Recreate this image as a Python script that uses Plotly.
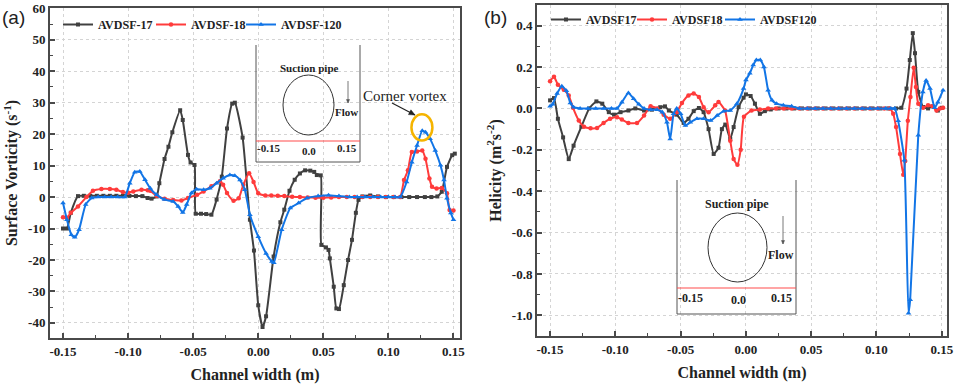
import plotly.graph_objects as go

# ---------------- Panel (a): Surface vorticity ----------------
xa_17 = [-0.150, -0.147, -0.144, -0.1385, -0.134, -0.129, -0.124, -0.119, -0.114, -0.109, -0.104, -0.099,
         -0.094, -0.089, -0.085, -0.082, -0.078, -0.076, -0.072, -0.069, -0.066, -0.060, -0.058, -0.054,
         -0.052, -0.049, -0.048, -0.044, -0.040, -0.036, -0.032, -0.028, -0.024, -0.020, -0.018, -0.012,
         -0.0064, -0.0033, 0.000, 0.0033, 0.006, 0.0118, 0.017, 0.020, 0.024, 0.028, 0.032, 0.036, 0.040,
         0.043, 0.045, 0.048, 0.0485, 0.052, 0.054, 0.055, 0.058, 0.060, 0.062, 0.0657, 0.069, 0.072,
         0.075, 0.077, 0.080, 0.086, 0.092, 0.098, 0.104, 0.110, 0.116, 0.122, 0.128, 0.133, 0.1376,
         0.141, 0.145, 0.149, 0.151]
ya_17 = [-10.0, -10.0, -5.0, 0.3, 0.4, 0.4, 0.4, 0.4, 0.4, 0.4, 0.4, 0.4,
         0.3, 0.3, -0.3, -0.5, 0.2, 4.4, 12.1, 16.0, 20.6, 27.6, 24.5, 13.4,
         11.0, 10.2, -5.3, -5.3, -5.4, -5.6, -0.8, 6.5, 21.8, 29.7, 30.0, 18.9,
         -7.2, -17.0, -34.4, -41.3, -37.9, -18.9, -8.0, -4.0, 2.0, 5.5, 7.5, 8.5, 8.4,
         8.0, 7.0, 6.9, -15.2, -16.0, -16.8, -19.5, -28.5, -35.4, -35.6, -28.0, -20.0, -13.6,
         -5.0, -0.9, 0.2, 0.5, 0.2, 0.0, 0.0, 0.0, 0.0, 0.0, 0.0, 0.0, 0.2,
         1.7, 9.6, 13.3, 13.8]

xa_18 = [-0.150, -0.147, -0.144, -0.1385, -0.132, -0.127, -0.1205, -0.114, -0.109, -0.104, -0.100,
         -0.096, -0.0897, -0.085, -0.083, -0.078, -0.072, -0.0654, -0.059, -0.054, -0.047, -0.042,
         -0.036, -0.0295, -0.027, -0.024, -0.019, -0.015, -0.0115, -0.007, -0.0036, 0.000, 0.0054,
         0.010, 0.015, 0.020, 0.026, 0.032, 0.038, 0.044, 0.050, 0.056, 0.062, 0.068, 0.074, 0.080,
         0.086, 0.092, 0.098, 0.104, 0.109, 0.112, 0.115, 0.118, 0.122, 0.126, 0.1285, 0.1315,
         0.1335, 0.137, 0.141, 0.145, 0.147, 0.150]
ya_18 = [-6.4, -6.6, -5.0, -3.0, 0.0, 2.0, 2.6, 2.6, 2.3, 1.6, 1.4,
         1.8, 2.3, 2.2, 2.0, 0.4, -0.5, -0.9, -1.1, -0.3, 0.7, 1.8,
         3.4, 5.0, 3.9, 1.3, -1.2, -0.4, 3.9, 7.6, 4.8, 1.2, 0.5,
         0.5, 0.4, 0.3, 0.1, 0.0, -0.1, -0.2, -0.2, -0.1, 0.0, 0.0, 0.0, 0.0,
         0.0, 0.0, 0.0, 0.0, 0.0, 5.4, 8.5, 14.3, 14.5, 14.8, 12.2, 5.9,
         3.3, 2.7, 2.9, 1.2, -4.1, -4.3]

xa_120 = [-0.150, -0.147, -0.1436, -0.141, -0.1377, -0.1326, -0.128, -0.123, -0.118, -0.113, -0.108,
          -0.1026, -0.0987, -0.0949, -0.091, -0.087, -0.083, -0.078, -0.072, -0.0654, -0.0615, -0.058,
          -0.055, -0.0513, -0.0474, -0.042, -0.0372, -0.032, -0.027, -0.0218, -0.018, -0.014, -0.0103,
          -0.0064, 0.000, 0.006, 0.0105, 0.012, 0.018, 0.0246, 0.031, 0.0375, 0.046, 0.054, 0.062,
          0.070, 0.076, 0.082, 0.088, 0.094, 0.100, 0.105, 0.109, 0.114, 0.118, 0.122, 0.126, 0.1285,
          0.132, 0.136, 0.140, 0.1427, 0.145, 0.148, 0.150]
ya_120 = [-1.9, -7.2, -12.0, -12.8, -10.4, -2.4, -0.3, 0.0, 0.0, 0.0, 0.0,
          0.0, 4.4, 7.9, 8.1, 5.5, 2.8, 0.7, -0.8, -1.4, -3.0, -4.9,
          -2.4, 1.3, 2.5, 2.3, 2.8, 4.4, 6.0, 7.0, 6.8, 5.4, 2.3,
          -5.6, -12.6, -17.9, -20.5, -20.9, -10.4, -3.5, -1.9, -0.3, 0.3, 0.6, 0.3,
          0.0, 0.0, 0.0, 0.0, 0.0, 0.0, 0.0, 0.0, 4.8, 11.1, 16.4, 21.1, 20.6,
          18.5, 14.8, 10.1, 5.4, -0.4, -5.1, -7.2]

# ---------------- Panel (b): Helicity ----------------
xb_17 = [-0.150, -0.147, -0.144, -0.140, -0.1357, -0.132, -0.126, -0.120, -0.1145, -0.110, -0.105,
         -0.101, -0.096, -0.090, -0.0847, -0.078, -0.072, -0.0656, -0.062, -0.059, -0.053, -0.0477,
         -0.044, -0.040, -0.036, -0.0324, -0.0286, -0.0247, -0.021, -0.0184, -0.0158, -0.012, -0.0094,
         -0.0056, -0.0018, 0.000, 0.0036, 0.0069, 0.0107, 0.0145, 0.019, 0.025, 0.031, 0.037, 0.043,
         0.049, 0.055, 0.061, 0.067, 0.073, 0.079, 0.085, 0.091, 0.097, 0.103, 0.109, 0.115, 0.119,
         0.123, 0.1255, 0.1278, 0.1295, 0.132, 0.1357, 0.1395, 0.143, 0.147, 0.150]
yb_17 = [0.039, 0.050, -0.050, -0.140, -0.245, -0.180, -0.088, 0.000, 0.034, 0.023, -0.018,
         -0.030, -0.018, -0.010, 0.000, -0.010, -0.006, 0.006, 0.010, -0.010, -0.030, -0.070,
         -0.050, -0.013, 0.002, -0.018, -0.100, -0.220, -0.190, -0.100, -0.078, -0.148, -0.090,
         0.006, 0.052, 0.068, 0.060, 0.023, -0.026, -0.013, -0.005, 0.000, 0.000, 0.000, 0.000,
         0.000, 0.000, 0.000, 0.000, 0.000, 0.000, 0.000, 0.000, 0.000, 0.000, 0.000, 0.000, 0.003,
         0.096, 0.234, 0.364, 0.267, 0.080, 0.007, 0.000, 0.010, -0.010, 0.003]

xb_18 = [-0.150, -0.147, -0.144, -0.1395, -0.1357, -0.1324, -0.128, -0.124, -0.119, -0.114, -0.109,
         -0.104, -0.0987, -0.095, -0.090, -0.0834, -0.078, -0.073, -0.068, -0.063, -0.058, -0.053,
         -0.049, -0.044, -0.040, -0.036, -0.0324, -0.0286, -0.0235, -0.021, -0.016, -0.012, -0.0094,
         -0.0065, -0.004, -0.0015, 0.0043, 0.0107, 0.017, 0.023, 0.029, 0.035, 0.041, 0.047, 0.053,
         0.059, 0.065, 0.071, 0.077, 0.083, 0.089, 0.095, 0.101, 0.106, 0.110, 0.1128, 0.115, 0.118,
         0.1205, 0.122, 0.124, 0.126, 0.1285, 0.1302, 0.132, 0.1357, 0.1395, 0.1429, 0.146, 0.1485,
         0.151]
yb_18 = [0.132, 0.153, 0.115, 0.090, 0.063, 0.003, -0.058, -0.088, -0.096, -0.094, -0.070,
         -0.050, -0.042, -0.054, -0.070, -0.070, -0.034, 0.010, 0.000, -0.030, -0.050, -0.018,
         0.026, 0.063, 0.072, 0.055, 0.006, -0.018, 0.015, 0.031, -0.010, -0.156, -0.245,
         -0.272, -0.200, -0.040, -0.010, -0.005, 0.000, 0.000, 0.000, 0.000, 0.000, 0.000, 0.000,
         0.000, 0.000, 0.000, 0.000, 0.000, 0.000, 0.000, 0.000, 0.000, 0.000, -0.026, -0.090, -0.220,
         -0.320, -0.254, -0.060, 0.055, 0.197, 0.104, 0.023, 0.003, 0.015, 0.010, -0.010, 0.000,
         0.003]

xb_120 = [-0.150, -0.148, -0.1446, -0.141, -0.1375, -0.1345, -0.132, -0.127, -0.121, -0.115, -0.109,
          -0.103, -0.0987, -0.095, -0.090, -0.086, -0.082, -0.078, -0.073, -0.068, -0.064, -0.0605,
          -0.058, -0.0554, -0.053, -0.050, -0.0464, -0.0426, -0.0375, -0.0324, -0.027, -0.022, -0.017,
          -0.012, -0.0069, -0.0018, 0.000, 0.003, 0.0056, 0.008, 0.011, 0.0138, 0.017, 0.020, 0.0235,
          0.0286, 0.035, 0.041, 0.047, 0.053, 0.059, 0.065, 0.071, 0.077, 0.083, 0.089, 0.095, 0.101,
          0.107, 0.111, 0.114, 0.1166, 0.1213, 0.1245, 0.1258, 0.132, 0.1355, 0.138, 0.141, 0.1445,
          0.147, 0.151]
yb_120 = [0.010, 0.020, 0.072, 0.107, 0.085, 0.026, 0.006, 0.000, 0.000, 0.000, 0.000,
          0.000, 0.000, 0.030, 0.075, 0.047, 0.020, 0.000, -0.006, -0.006, -0.018, -0.067,
          -0.148, -0.026, 0.000, -0.026, -0.083, -0.067, -0.050, -0.050, -0.058, -0.034, -0.013,
          -0.010, 0.023, 0.096, 0.137, 0.170, 0.210, 0.234, 0.234, 0.200, 0.088, 0.039, 0.023,
          0.015, 0.010, 0.000, 0.000, 0.000, 0.000, 0.000, 0.000, 0.000, 0.000, 0.000, 0.000, 0.000,
          0.000, 0.000, 0.000, -0.060, -0.250, -0.990, -0.925, -0.130, 0.080, 0.135, 0.096, 0.003,
          0.030, 0.088]

# tick labels
xa_ticks = [-0.15, -0.10, -0.05, 0.00, 0.05, 0.10, 0.15]
xa_ticktext = ['-0.15', '-0.10', '-0.05', '0.00', '0.05', '0.10', '0.15']
ya_ticks = [-40, -30, -20, -10, 0, 10, 20, 30, 40, 50, 60]
ya_ticktext = ['-40', '-30', '-20', '-10', '0', '10', '20', '30', '40', '50', '60']
yb_ticks = [-1.0, -0.8, -0.6, -0.4, -0.2, 0.0, 0.2, 0.4]
yb_ticktext = ['-1.0', '-0.8', '-0.6', '-0.4', '-0.2', '0.0', '0.2', '0.4']

names_a = ['AVDSF-17', 'AVDSF-18', 'AVDSF-120']
names_b = ['AVDSF17', 'AVDSF18', 'AVDSF120']

# ---------------- styling ----------------
W, H = 955, 387
C_BLACK = '#404040'
C_RED = '#ff3b3b'
C_BLUE = '#1275e6'
AXC = '#4a4a4a'
SERIF = 'Liberation Serif'


def px(x):
    return x / W


def py(y):
    return 1 - y / H


fig = go.Figure()

series_a = [(xa_17, ya_17, names_a[0], C_BLACK, 'square', 4),
            (xa_18, ya_18, names_a[1], C_RED, 'circle', 4.5),
            (xa_120, ya_120, names_a[2], C_BLUE, 'triangle-up', 5)]
series_b = [(xb_17, yb_17, names_b[0], C_BLACK, 'square', 4),
            (xb_18, yb_18, names_b[1], C_RED, 'circle', 4.5),
            (xb_120, yb_120, names_b[2], C_BLUE, 'triangle-up', 5)]

# one legend per entry so each entry sits where the reference has it
legend_ids_a = ['legend', 'legend2', 'legend3']
legend_ids_b = ['legend4', 'legend5', 'legend6']
legend_x_a = [58, 151, 241]
legend_x_b = [546, 632, 720]

for (xs, ys, nm, c, sym, sz), lid in zip(series_a, legend_ids_a):
    fig.add_trace(go.Scatter(x=xs, y=ys, name=nm, mode='lines+markers',
                             line=dict(color=c, width=2, shape='spline', smoothing=0.5),
                             marker=dict(color=c, symbol=sym, size=sz),
                             xaxis='x', yaxis='y', legend=lid))
for (xs, ys, nm, c, sym, sz), lid in zip(series_b, legend_ids_b):
    fig.add_trace(go.Scatter(x=xs, y=ys, name=nm, mode='lines+markers',
                             line=dict(color=c, width=2, shape='spline', smoothing=0.5),
                             marker=dict(color=c, symbol=sym, size=sz),
                             xaxis='x2', yaxis='y2', legend=lid))

tickfont = dict(family=SERIF, size=13, color='#222', weight='bold')
titlefont = dict(family=SERIF, size=16, color='#222', weight='bold')


def xaxis_cfg(domain, rng, anchor):
    return dict(domain=domain, range=rng, anchor=anchor, automargin=False,
                tickmode='array', tickvals=xa_ticks, ticktext=xa_ticktext,
                showline=True, linecolor=AXC, linewidth=2, mirror=True,
                ticks='inside', ticklen=5, tickwidth=1.5, tickcolor=AXC,
                minor=dict(ticks='inside', ticklen=3, tickwidth=1.2, tickcolor=AXC,
                           tickvals=[-0.125, -0.075, -0.025, 0.025, 0.075, 0.125], showgrid=False),
                showgrid=True, gridcolor='#d4d4d4', griddash='dot', gridwidth=1,
                zeroline=False, tickfont=tickfont,
                title=dict(text='Channel width (m)', font=titlefont, standoff=11))


def yaxis_cfg(domain, rng, anchor, vals, text, minorvals, title):
    return dict(domain=domain, range=rng, anchor=anchor, automargin=False,
                tickmode='array', tickvals=vals, ticktext=text,
                showline=True, linecolor=AXC, linewidth=2, mirror=True,
                ticks='inside', ticklen=5, tickwidth=1.5, tickcolor=AXC,
                minor=dict(ticks='inside', ticklen=3, tickwidth=1.2, tickcolor=AXC,
                           tickvals=minorvals, showgrid=False),
                showgrid=True, gridcolor='#d4d4d4', griddash='dot', gridwidth=1,
                zeroline=False, tickfont=tickfont,
                title=dict(text=title, font=titlefont, standoff=6))


ya_minor = [-35, -25, -15, -5, 5, 15, 25, 35, 45, 55]
yb_minor = [-0.9, -0.7, -0.5, -0.3, -0.1, 0.1, 0.3, 0.5]

legfont = dict(family=SERIF, size=12, color='#222', weight='bold')
layout_legends = {}
for lid, lx in zip(legend_ids_a, legend_x_a):
    layout_legends[lid] = dict(orientation='h', x=px(lx), y=py(10), xanchor='left', yanchor='top',
                               bgcolor='rgba(0,0,0,0)', font=legfont, itemwidth=30)
for lid, lx in zip(legend_ids_b, legend_x_b):
    layout_legends[lid] = dict(orientation='h', x=px(lx), y=py(5), xanchor='left', yanchor='top',
                               bgcolor='rgba(0,0,0,0)', font=legfont, itemwidth=30)

fig.update_layout(
    width=W, height=H,
    margin=dict(l=0, r=0, t=0, b=0, autoexpand=False),
    paper_bgcolor='white', plot_bgcolor='white',
    xaxis=xaxis_cfg([px(50), px(460)], [-0.16, 0.155], 'y'),
    yaxis=yaxis_cfg([py(338), py(8)], [-44.8, 60.1], 'x', ya_ticks, ya_ticktext, ya_minor,
                    'Surface Vorticity (s<sup>-1</sup>)'),
    xaxis2=xaxis_cfg([px(537), px(947)], [-0.16, 0.154], 'y2'),
    yaxis2=yaxis_cfg([py(336), py(5)], [-1.1, 0.5], 'x2', yb_ticks, yb_ticktext, yb_minor,
                     'Helicity (m<sup>2</sup>s<sup>-2</sup>)'),
    showlegend=True,
    **layout_legends,
)

shapes = []
annotations = []
inset_line = dict(color='#555', width=1)
txtfont_a = dict(family=SERIF, size=11, color='#222', weight='bold')
txtfont_b = dict(family=SERIF, size=12, color='#222', weight='bold')


def arrow(x0, y0, x1, y1, color, width, head):
    """Arrow from pixel (x0,y0) to tip (x1,y1) in paper space, drawn as shapes."""
    shapes.append(dict(type='line', xref='paper', yref='paper', x0=px(x0), y0=py(y0), x1=px(x1), y1=py(y1),
                       line=dict(color=color, width=width)))
    dx, dy = x1 - x0, y1 - y0
    n = (dx * dx + dy * dy) ** 0.5
    ux, uy = dx / n, dy / n
    bx, by = x1 - ux * head, y1 - uy * head
    lx, ly = bx - uy * head * 0.45, by + ux * head * 0.45
    rx, ry = bx + uy * head * 0.45, by - ux * head * 0.45
    path = f'M {px(x1)},{py(y1)} L {px(lx)},{py(ly)} L {px(rx)},{py(ry)} Z'
    shapes.append(dict(type='path', xref='paper', yref='paper', path=path, fillcolor=color,
                       line=dict(color=color, width=0.5)))


# Inset (a)
for (x0, y0, x1, y1) in [(256, 45, 256, 162), (360, 45, 360, 162), (256, 162, 360, 162)]:
    shapes.append(dict(type='line', xref='paper', yref='paper', x0=px(x0), y0=py(y0), x1=px(x1), y1=py(y1),
                       line=inset_line))
shapes.append(dict(type='line', xref='paper', yref='paper', x0=px(256), y0=py(141), x1=px(360), y1=py(141),
                   line=dict(color='#ff4d4d', width=1.2)))
shapes.append(dict(type='circle', xref='paper', yref='paper', x0=px(283), y0=py(135), x1=px(334), y1=py(75),
                   line=dict(color='#333', width=1)))
for t, x, y in [('Suction pipe', 309, 68), ('Flow', 346, 112), ('-0.15', 268, 148), ('0.0', 309, 151),
                ('0.15', 347, 148)]:
    annotations.append(dict(text=t, xref='paper', yref='paper', x=px(x), y=py(y), showarrow=False,
                            font=txtfont_a, xanchor='center', yanchor='middle'))
arrow(348, 81, 348, 103, '#555', 0.8, 3.5)

# Inset (b)
for (x0, y0, x1, y1) in [(677, 180, 677, 314), (796, 180, 796, 314), (677, 314, 796, 314)]:
    shapes.append(dict(type='line', xref='paper', yref='paper', x0=px(x0), y0=py(y0), x1=px(x1), y1=py(y1),
                       line=inset_line))
shapes.append(dict(type='line', xref='paper', yref='paper', x0=px(677), y0=py(288), x1=px(796), y1=py(288),
                   line=dict(color='#ff4d4d', width=1.2)))
shapes.append(dict(type='circle', xref='paper', yref='paper', x0=px(708), y0=py(282), x1=px(767), y1=py(213),
                   line=dict(color='#333', width=1)))
for t, x, y in [('Suction pipe', 737, 204), ('Flow', 781, 255), ('-0.15', 690, 298), ('0.0', 738, 300),
                ('0.15', 781, 298)]:
    annotations.append(dict(text=t, xref='paper', yref='paper', x=px(x), y=py(y), showarrow=False,
                            font=txtfont_b, xanchor='center', yanchor='middle'))
arrow(783, 216, 783, 244, '#555', 0.8, 3.5)

# Corner vortex highlight
shapes.append(dict(type='circle', xref='x', yref='y', x0=0.1177, x1=0.1338, y0=18.0, y1=26.3,
                   line=dict(color='#f5b400', width=2.5)))
arrow(392, 103, 415, 115, '#222', 1.2, 6)
annotations.append(dict(text='Corner vortex', xref='paper', yref='paper', x=px(405), y=py(96),
                        showarrow=False, font=dict(family=SERIF, size=15, color='#222'),
                        xanchor='center', yanchor='middle'))

# Panel labels
annotations.append(dict(text='(a)', xref='paper', yref='paper', x=px(13.5), y=py(17), showarrow=False,
                        font=dict(family='Liberation Sans', size=19, color='#222'),
                        xanchor='center', yanchor='middle'))
annotations.append(dict(text='(b)', xref='paper', yref='paper', x=px(495), y=py(17), showarrow=False,
                        font=dict(family='Liberation Sans', size=19, color='#222'),
                        xanchor='center', yanchor='middle'))

fig.update_layout(shapes=shapes, annotations=annotations)

# the page body has a default 8px margin; remove it so the figure fills the window exactly
fig.write_html('out.html', config={'displayModeBar': False},
               post_script="document.body.style.margin='0px';")
